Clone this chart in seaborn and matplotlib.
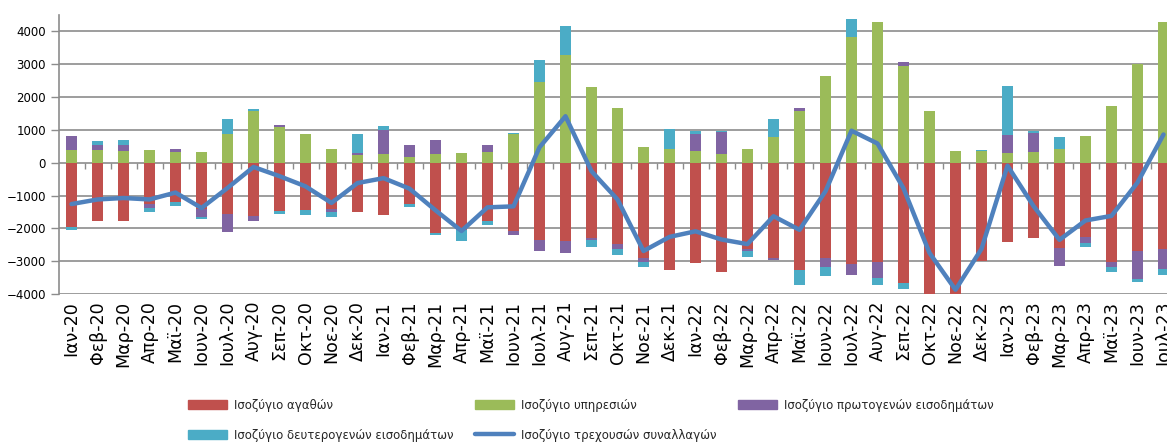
import numpy as np
import pandas as pd
import matplotlib
matplotlib.use("Agg")
import matplotlib.pyplot as plt
import seaborn as sns
from matplotlib.patches import Patch
from matplotlib.lines import Line2D

months_gr = ["Ιαν", "Φεβ", "Μαρ", "Απρ", "Μαϊ", "Ιουν", "Ιουλ", "Αυγ", "Σεπ", "Οκτ", "Νοε", "Δεκ"]
labels = [f"{m}-{y}" for y in ["20", "21", "22"] for m in months_gr] + \
         [f"{m}-23" for m in months_gr[:7]]

goods = [-1970, -1780, -1780, -1265, -1195, -1420, -1570, -1620, -1480, -1450, -1420, -1500,
         -1600, -1245, -2150, -2055, -1780, -2075, -2360, -2400, -2290, -2480, -2890, -3270,
         -3070, -3320, -2635, -2915, -3270, -2915, -3090, -3010, -3680, -4330, -4080, -2990,
         -2410, -2290, -2585, -2260, -3010, -2705, -2615]
services = [400, 375, 355, 385, 325, 325, 880, 1590, 1095, 860, 405, 225,
            275, 170, 275, 285, 325, 860, 2450, 3290, 2310, 1670, 485, 405,
            355, 255, 405, 790, 1590, 2630, 3820, 4300, 2960, 1590, 355, 355,
            285, 325, 425, 810, 1720, 3020, 4285]
primary = [400, 150, 180, -100, 80, -220, -540, -160, 40, 0, -70, 80,
           710, 365, 405, 0, 200, -130, -325, -365, -60, -150, -150, 0,
           505, 680, -70, -40, 80, -275, -325, -515, 100, 0, -150, 0,
           555, 565, -575, -190, -180, -840, -610]
secondary = [-80, 130, 170, -150, -120, -60, 465, 60, -70, -140, -150, 560,
             130, -90, -40, -345, -120, 30, 690, 890, -230, -170, -150, 610,
             120, 40, -180, 555, -445, -275, 555, -200, -170, 0, 0, 20,
             1490, 70, 365, -130, -150, -80, -200]
current_acc = [-1260, -1120, -1075, -1120, -910, -1380, -770, -130, -410, -720, -1225, -620,
               -470, -790, -1450, -2080, -1360, -1330, 470, 1415, -260, -1120, -2690, -2260,
               -2090, -2340, -2480, -1630, -2045, -870, 975, 585, -780, -2750, -3870, -2625,
               -90, -1320, -2350, -1760, -1620, -605, 860]

series_names = ["Ισοζύγιο αγαθών", "Ισοζύγιο υπηρεσιών",
                "Ισοζύγιο πρωτογενών εισοδημάτων", "Ισοζύγιο δευτερογενών εισοδημάτων"]
line_name = "Ισοζύγιο τρεχουσών συναλλαγών"
colors = ["#C0504D", "#9BBB59", "#8064A2", "#4BACC6"]
line_color = "#4F81BD"
grid_color = "#8C8C8C"

df = pd.DataFrame({"label": labels, "goods": goods, "services": services,
                   "primary": primary, "secondary": secondary, "ca": current_acc})
df["x"] = np.arange(len(df))

sns.set_theme(style="white")
plt.rcParams["font.family"] = ["DejaVu Sans"]

fig = plt.figure(figsize=(11.67, 4.42), dpi=100)
ax = fig.add_axes([58.5 / 1167, 148 / 442, 1118 / 1167, 279 / 442])

# signed stacking, like Excel: positives up from 0, negatives down from 0
pos_base = np.zeros(len(df))
neg_base = np.zeros(len(df))
for col, color in zip(["goods", "services", "primary", "secondary"], colors):
    vals = df[col].to_numpy(dtype=float)
    base = np.where(vals >= 0, pos_base, neg_base)
    ax.bar(df["x"], vals, bottom=base, width=0.4, color=color, linewidth=0, zorder=3)
    pos_base = pos_base + np.clip(vals, 0, None)
    neg_base = neg_base + np.clip(vals, None, 0)

sns.lineplot(data=df, x="x", y="ca", ax=ax, color=line_color, linewidth=3.2,
             zorder=4, legend=False)

ax.set_xlim(-0.5, len(df) - 0.5)
ax.set_ylim(-4000, 4500)
ax.set_yticks(np.arange(-4000, 4001, 1000))
for yv in np.arange(-4000, 4001, 1000):
    if yv != 0:
        ax.axhline(yv, color=grid_color, lw=1.2, zorder=1)
ax.axhline(0, color=grid_color, lw=1.2, zorder=2)
ax.vlines(np.arange(len(df)) + 0.5, -180, 0, color=grid_color, lw=1, zorder=2)

for s in ["top", "right", "bottom"]:
    ax.spines[s].set_visible(False)
ax.spines["left"].set_color(grid_color)
ax.spines["left"].set_linewidth(1.2)

ax.set_xticks(df["x"])
ax.set_xticklabels(df["label"], rotation=90, fontsize=12.5, color="black")
ax.tick_params(axis="x", length=0, pad=5)
ax.tick_params(axis="y", length=6, width=1, color=grid_color, direction="out",
               labelsize=8.5, pad=3, left=True, labelcolor="black")
ax.set_xlabel("")
ax.set_ylabel("")

handles = [Patch(color=c) for c in colors] + [Line2D([], [], color=line_color, lw=3.2)]
names = series_names + [line_name]
order = [0, 3, 1, 4, 2]
fig.legend([handles[i] for i in order], [names[i] for i in order],
           loc="upper left", bbox_to_anchor=(188 / 1167, 1 - 399 / 442),
           ncol=3, frameon=False, fontsize=8.5, handlelength=3.3, handleheight=0.8,
           handletextpad=0.6, columnspacing=1.8, labelspacing=1.4, borderaxespad=0,
           borderpad=0)

fig.savefig("out.png", dpi=100)
plt.close(fig)
